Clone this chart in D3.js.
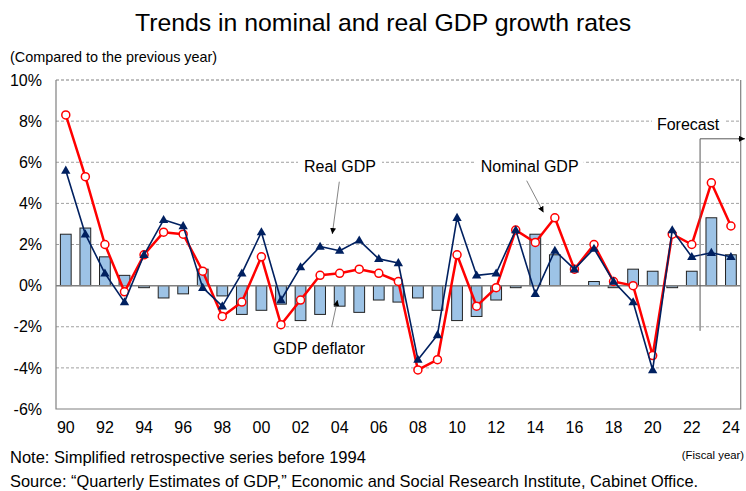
<!DOCTYPE html>
<html><head><meta charset="utf-8">
<script src="https://cdn.jsdelivr.net/npm/d3@7"></script>
<style>body{margin:0;background:#fff}svg{display:block}text{font-family:"Liberation Sans",Arial,sans-serif;fill:#000}</style>
</head><body>
<svg id="c" width="746" height="491"></svg>
<script>
const years = [1990,1991,1992,1993,1994,1995,1996,1997,1998,1999,2000,2001,2002,2003,2004,2005,2006,2007,2008,2009,2010,2011,2012,2013,2014,2015,2016,2017,2018,2019,2020,2021,2022,2023,2024];
const realGDP = [5.6,2.5,0.6,-0.8,1.5,3.2,2.9,-0.1,-1.0,0.6,2.6,-0.7,0.9,1.9,1.7,2.2,1.3,1.1,-3.6,-2.4,3.3,0.5,0.6,2.7,-0.4,1.7,0.8,1.8,0.2,-0.8,-4.1,2.7,1.4,1.6,1.4];
const nominalGDP = [8.3,5.3,2.0,-0.3,1.5,2.6,2.5,0.7,-1.5,-0.8,1.4,-1.9,-0.7,0.5,0.6,0.8,0.6,0.2,-4.1,-3.6,1.5,-1.0,-0.1,2.7,2.1,3.3,0.8,2.0,0.2,0.0,-3.4,2.5,2.0,5.0,2.9];
const deflator = [2.5,2.8,1.4,0.5,-0.1,-0.6,-0.4,0.8,-0.5,-1.4,-1.2,-0.9,-1.7,-1.4,-1.0,-1.3,-0.7,-0.8,-0.6,-1.2,-1.7,-1.5,-0.7,-0.1,2.5,1.5,0.0,0.2,-0.1,0.8,0.7,-0.1,0.7,3.3,1.5];
const yTicks = [-6,-4,-2,0,2,4,6,8,10];
const xTickYears = [1990,1992,1994,1996,1998,2000,2002,2004,2006,2008,2010,2012,2014,2016,2018,2020,2022,2024];

const svg = d3.select("#c");
const L=56, R=740.7, T=80, B=409;
const x = d3.scaleBand().domain(years).range([L,R]).padding(0);
const bw = x.bandwidth();
const cx = d => x(d)+bw/2;
const y = d3.scaleLinear().domain([-6,10]).range([B,T]);

// title texts
svg.append("text").attr("x",383).attr("y",31).attr("text-anchor","middle").style("font-size","24.8px").text("Trends in nominal and real GDP growth rates");
svg.append("text").attr("x",10).attr("y",62).style("font-size","14.4px").text("(Compared to the previous year)");

// grid
svg.append("g").selectAll("line").data(yTicks.filter(v=>v!==0 && v!==-6)).join("line")
  .attr("x1",L).attr("x2",R).attr("y1",d=>y(d)).attr("y2",d=>y(d))
  .attr("stroke",d=>d===10?"#808080":"#a0a0a0").attr("stroke-width",1).attr("stroke-dasharray","3,2");

// bars
const bwBar = bw*0.55;
svg.append("g").selectAll("rect").data(years).join("rect")
  .attr("x",(d)=>cx(d)-bwBar/2).attr("width",bwBar)
  .attr("y",(d,i)=>y(Math.max(0,deflator[i])))
  .attr("height",(d,i)=>Math.abs(y(deflator[i])-y(0)))
  .attr("fill","#9dc3e6").attr("stroke","#222").attr("stroke-width",1);

// zero line
svg.append("line").attr("x1",L).attr("x2",R).attr("y1",y(0)).attr("y2",y(0)).attr("stroke","#808080").attr("stroke-width",1.5);
// frame
svg.append("path").attr("d",`M${L},${T}V${B}H${R}V${T}`).attr("fill","none").attr("stroke","#808080").attr("stroke-width",1.2);

// axes
const yAxis = d3.axisLeft(y).tickValues(yTicks).tickSize(0).tickPadding(14).tickFormat(d=>d+"%");
const gy = svg.append("g").attr("transform",`translate(${L},0)`).call(yAxis);
gy.select(".domain").remove();
gy.selectAll("text").style("font-size","16px").style("font-family","'Liberation Sans',Arial,sans-serif").attr("fill","#000");

const xAxis = d3.axisBottom(x).tickValues(xTickYears).tickSize(0).tickPadding(13).tickFormat(d=>String(d).slice(2));
const gx = svg.append("g").attr("transform",`translate(0,${B})`).call(xAxis);
gx.select(".domain").remove();
gx.selectAll("text").style("font-size","16px").style("font-family","'Liberation Sans',Arial,sans-serif").attr("fill","#000");

// nominal line
const line = arr => d3.line().x((d)=>cx(d)).y((d,i)=>y(arr[i]))(years);
svg.append("path").attr("d",line(nominalGDP)).attr("fill","none").attr("stroke","#ff0000").attr("stroke-width",2.5).attr("stroke-linejoin","round");
svg.append("g").selectAll("circle").data(years).join("circle")
  .attr("cx",d=>cx(d)).attr("cy",(d,i)=>y(nominalGDP[i])).attr("r",4)
  .attr("fill","#fff").attr("stroke","#ff0000").attr("stroke-width",1.5);

// real line
svg.append("path").attr("d",line(realGDP)).attr("fill","none").attr("stroke","#002060").attr("stroke-width",1.6).attr("stroke-linejoin","round");
const tri = d3.symbol().type(d3.symbolTriangle).size(38);
svg.append("g").selectAll("path").data(years).join("path")
  .attr("d",tri).attr("transform",(d,i)=>`translate(${cx(d)},${y(realGDP[i])+0.5})`)
  .attr("fill","#002060");

// arrow marker
const defs = svg.append("defs");
defs.append("marker").attr("id","ah").attr("viewBox","0 0 10 10").attr("refX",10).attr("refY",5)
  .attr("markerWidth",6).attr("markerHeight",6).attr("markerUnits","userSpaceOnUse").attr("orient","auto")
  .append("path").attr("d","M0,0L10,5L0,10Z").attr("fill","#000");

function arrow(x1,y1,x2,y2){
  svg.append("line").attr("x1",x1).attr("y1",y1).attr("x2",x2).attr("y2",y2)
    .attr("stroke","#666").attr("stroke-width",0.8).attr("marker-end","url(#ah)");
}
function label(t,xx,yy){
  svg.append("text").attr("x",xx).attr("y",yy).attr("text-anchor","middle").style("font-size","16px").text(t);
}
// white background behind labels on gridlines
[[340,166,84],[529.7,166,108],[688,124,72]].forEach(([xx,yy,w])=>{
  svg.append("rect").attr("x",xx-w/2).attr("y",yy-9).attr("width",w).attr("height",18).attr("fill","#fff");
});
label("Real GDP",340,172);
arrow(339.3,181.7,332.3,234);
label("Nominal GDP",529.7,172);
arrow(526.7,180.7,543.5,212.5);
label("GDP deflator",319,354);
arrow(331.7,327,337.5,300);

// forecast bracket
label("Forecast",688,130);
const fx = x(2023)-1.5;
svg.append("path").attr("d",`M${fx},${y(-2.2)}V${y(7.14)}H740`).attr("fill","none").attr("stroke","#595959").attr("stroke-width",1);
svg.append("line").attr("x1",738).attr("y1",y(7.14)).attr("x2",745).attr("y2",y(7.14)).attr("stroke","#595959").attr("stroke-width",1).attr("marker-end","url(#ah)");

// notes
svg.append("text").attr("x",10).attr("y",463).style("font-size","16.5px").text("Note: Simplified retrospective series before 1994");
svg.append("text").attr("x",744).attr("y",459).attr("text-anchor","end").style("font-size","11.3px").text("(Fiscal year)");
svg.append("text").attr("x",10).attr("y",487).style("font-size","16.4px").text("Source: \u201CQuarterly Estimates of GDP,\u201D Economic and Social Research Institute, Cabinet Office.");
</script>
</body></html>
